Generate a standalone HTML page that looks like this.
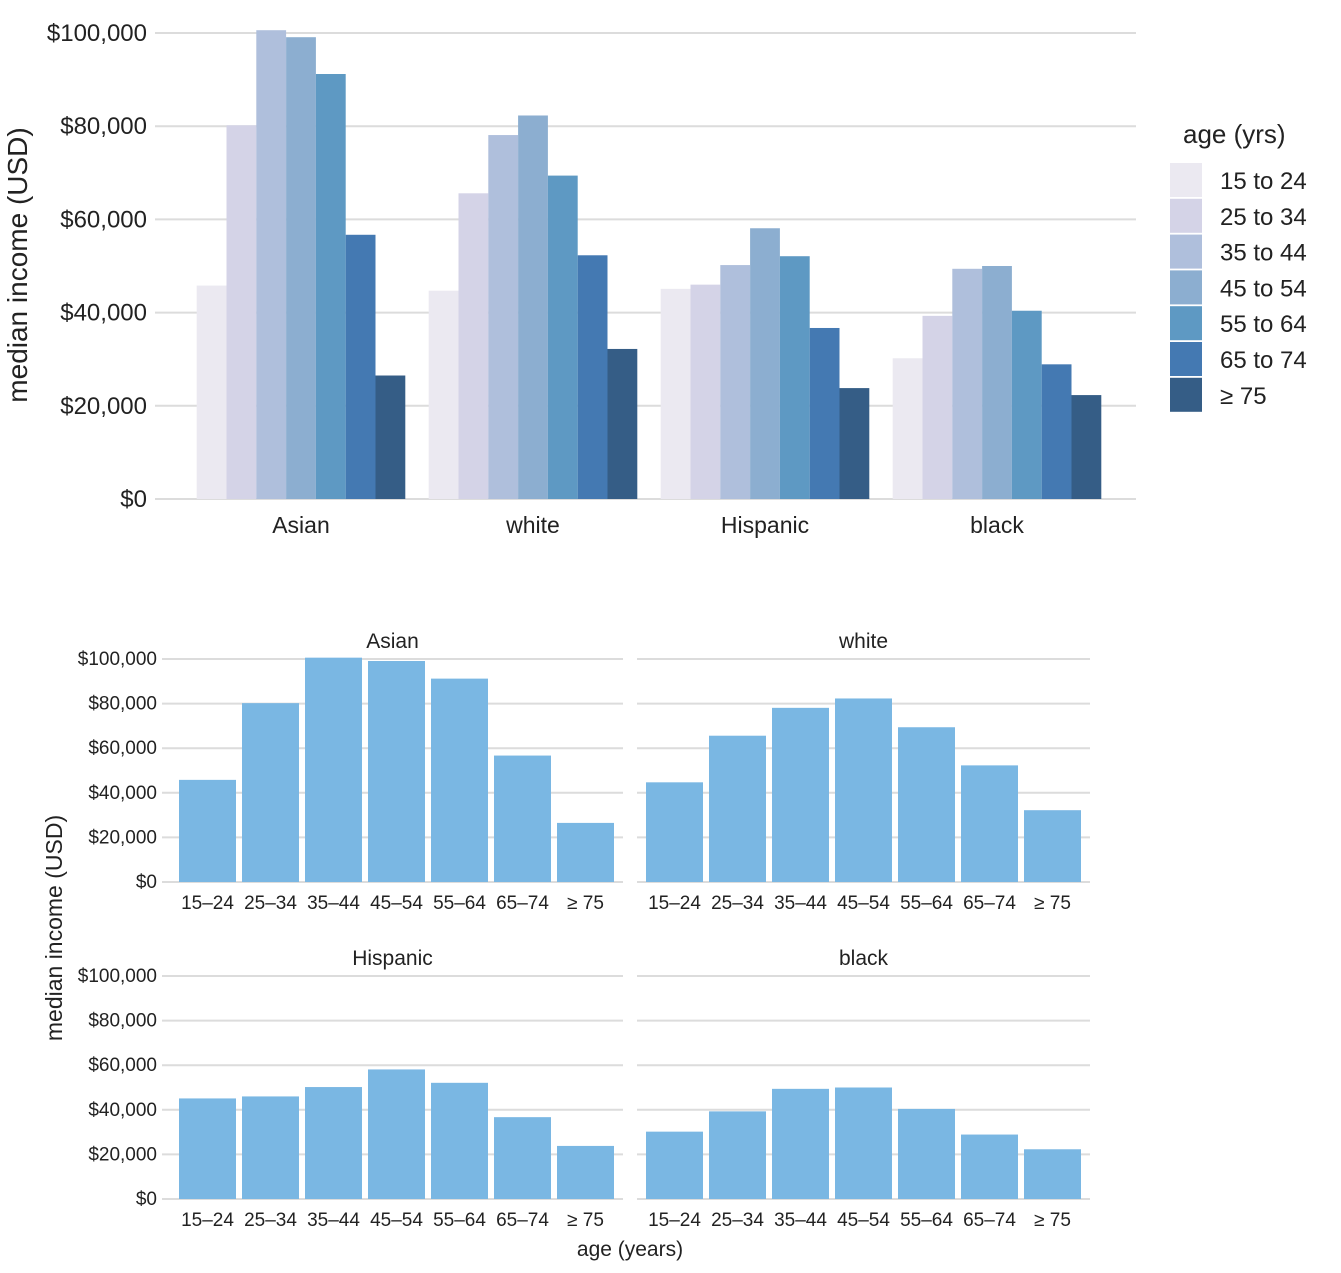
<!DOCTYPE html>
<html><head><meta charset="utf-8">
<style>
html,body{margin:0;padding:0;background:#fff;}
svg{display:block;font-family:"Liberation Sans","DejaVu Sans",sans-serif;}
</style></head>
<body>
<svg id="chart" width="1341" height="1273" viewBox="0 0 1341 1273" xmlns="http://www.w3.org/2000/svg"></svg>
<script>
const groups = ["Asian","white","Hispanic","black"];
const ageLegend = ["15 to 24","25 to 34","35 to 44","45 to 54","55 to 64","65 to 74","≥ 75"];
const ageTicks = ["15–24","25–34","35–44","45–54","55–64","65–74","≥ 75"];
const asianVals = [45.8, 80.2, 100.6, 99.1, 91.2, 56.7, 26.5];
const whiteVals = [44.7, 65.6, 78.1, 82.3, 69.4, 52.3, 32.2];
const hispanicVals = [45.1, 46.0, 50.2, 58.1, 52.1, 36.7, 23.8];
const blackVals = [30.2, 39.3, 49.4, 50.0, 40.4, 28.9, 22.3];
const yTicks = [0, 20, 40, 60, 80, 100];
const yTickLabels = ["$0","$20,000","$40,000","$60,000","$80,000","$100,000"];

const allVals = [asianVals, whiteVals, hispanicVals, blackVals];
const colors = ["#ebe9f1","#d4d3e7","#afbfdc","#8caed0","#5e99c3","#4479b2","#355d86"];
const NS = "http://www.w3.org/2000/svg";
const svg = document.getElementById("chart");
function mk(tag, attrs, parent){
  const e = document.createElementNS(NS, tag);
  for (const k in attrs) e.setAttribute(k, attrs[k]);
  (parent||svg).appendChild(e);
  return e;
}
function txt(s, attrs){ const t = mk("text", attrs); t.textContent = s; return t; }

// ---------- Top chart ----------
const topY = v => 499 - v * 4.66;
const groupX = i => 301 + i * 232;
const bw = 29.8;
yTicks.forEach((v,i)=>{
  const g = mk("line",{x1:155,x2:1136,y1:topY(v),y2:topY(v),stroke:"#dcdcdc","stroke-width":2});
  
  
  const t = txt(yTickLabels[i],{x:147,y:topY(v)+8,"text-anchor":"end","font-size":24,fill:"#222"});
  
  
});
allVals.forEach((vals,gi)=>{
  vals.forEach((v,ai)=>{
    const x = groupX(gi) - 3.5*bw + ai*bw;
    const r = mk("rect",{x:x,y:topY(v),width:bw,height:topY(0)-topY(v),fill:colors[ai]});
    
    
  });
  const t = txt(groups[gi],{x:groupX(gi),y:533,"text-anchor":"middle","font-size":23,fill:"#222"});
  
  
});
const yt = txt("median income (USD)",{x:0,y:0,transform:"translate(28,265) rotate(-90)","text-anchor":"middle","font-size":28,fill:"#222"});


yt.setAttribute('transform','translate(27,265) rotate(-90)');
// legend
const lt = txt("age (yrs)",{x:1183,y:143,"font-size":26,fill:"#222"});


ageLegend.forEach((s,i)=>{
  const y = 163 + i*35.8;
  const r = mk("rect",{x:1170,y:y,width:32,height:34,fill:colors[i]});
  
  
  const t = txt(s,{x:1220,y:y+26,"font-size":24,fill:"#222"});
  
  
});

// ---------- Facets ----------
const panels = [
  {x0:162, x1:623, bx:179, base:882, top:659},
  {x0:637, x1:1090, bx:646, base:882, top:659},
  {x0:162, x1:623, bx:179, base:1199, top:976},
  {x0:637, x1:1090, bx:646, base:1199, top:976}
];
panels.forEach((p,pi)=>{
  const fy = v => p.base - v*(p.base-p.top)/100;
  yTicks.forEach((v,i)=>{
    const g = mk("line",{x1:p.x0,x2:p.x1,y1:fy(v),y2:fy(v),stroke:"#dcdcdc","stroke-width":2});
    
    
    if (pi%2===0){
      const t = txt(yTickLabels[i],{x:157,y:fy(v)+6,"text-anchor":"end","font-size":19,fill:"#222"});
      
      
    }
  });
  allVals[pi].forEach((v,ai)=>{
    const x = p.bx + ai*63;
    const r = mk("rect",{x:x,y:fy(v),width:57,height:p.base-fy(v),fill:"#7ab7e3"});
    
    
    const t = txt(ageTicks[ai],{x:x+28.5,y:p.base+27,"text-anchor":"middle","font-size":19,fill:"#222"});
    
    
  });
  const st = txt(groups[pi],{x:(p.x0+p.x1)/2,y:p.top-11,"text-anchor":"middle","font-size":21,fill:"#222"});
  
  
});
const fyt = txt("median income (USD)",{x:0,y:0,transform:"translate(62,928) rotate(-90)","text-anchor":"middle","font-size":23,fill:"#222"});


const fxt = txt("age (years)",{x:630,y:1256,"text-anchor":"middle","font-size":21,fill:"#222"});


</script>
</body></html>
